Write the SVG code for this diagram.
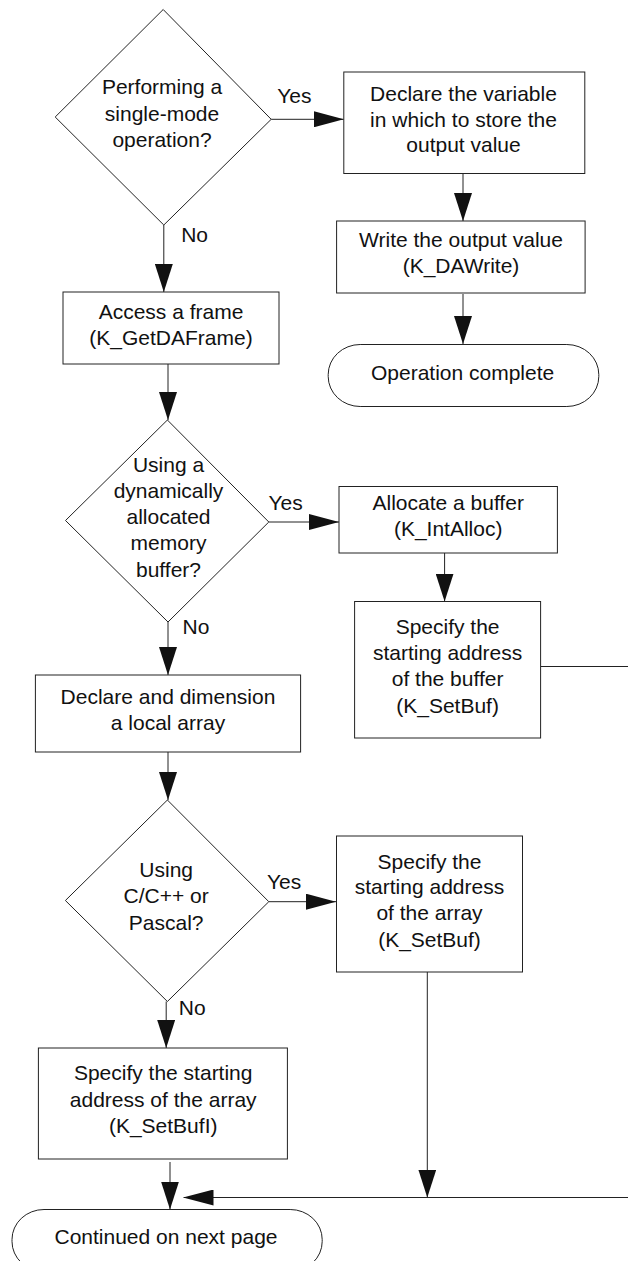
<svg xmlns="http://www.w3.org/2000/svg" width="628" height="1261" viewBox="0 0 628 1261">
<style>
.n{fill:#fff;stroke:#222;stroke-width:1}
.c{fill:none;stroke:#222;stroke-width:1}
text{font-family:"Liberation Sans",Arial,sans-serif;font-size:21px;fill:#111;text-anchor:middle}
.l{text-anchor:start}
</style>
<defs>
<marker id="ah" markerUnits="userSpaceOnUse" markerWidth="30" markerHeight="16" refX="30" refY="8" orient="auto">
<path d="M0,0 L30,8 L0,16 z" fill="#111"/>
</marker>
<marker id="av" markerUnits="userSpaceOnUse" markerWidth="28" markerHeight="18" refX="28" refY="9" orient="auto">
<path d="M0,0 L28,9 L0,18 z" fill="#111"/>
</marker>
</defs>
<rect width="628" height="1261" fill="#fff"/>
<g id="connectors">
<path class="c" d="M271.2,119.3 H343.8" marker-end="url(#ah)"/>
<path class="c" d="M163.8,225 V292" marker-end="url(#av)"/>
<path class="c" d="M463,174 V221" marker-end="url(#av)"/>
<path class="c" d="M463,294 V344" marker-end="url(#av)"/>
<path class="c" d="M168,364 V420" marker-end="url(#av)"/>
<path class="c" d="M268.8,522 H339" marker-end="url(#ah)"/>
<path class="c" d="M444.6,553 V601.5" marker-end="url(#av)"/>
<path class="c" d="M168,622 V675" marker-end="url(#av)"/>
<path class="c" d="M168,752 V800" marker-end="url(#av)"/>
<path class="c" d="M268.8,901.7 H336" marker-end="url(#ah)"/>
<path class="c" d="M166.2,1001.5 V1048" marker-end="url(#av)"/>
<path class="c" d="M427.3,972 V1197.5" marker-end="url(#av)"/>
<path class="c" d="M170,1162 V1209.5" marker-end="url(#av)"/>
<path class="c" d="M540.6,666.5 H640 V1197.5 H183.5" marker-end="url(#ah)"/>
<text class="l" x="277.2" y="103">Yes</text>
<text class="l" x="181.2" y="241.5">No</text>
<text class="l" x="268.5" y="510">Yes</text>
<text class="l" x="182.5" y="634">No</text>
<text class="l" x="267" y="889">Yes</text>
<text class="l" x="178.8" y="1015">No</text>
</g>
<g id="d1">
<polygon class="n" points="163.2,9.5 271.2,119.3 163.8,225 55.2,117"/>
<text x="162" y="94">Performing a</text>
<text x="162" y="120.5">single-mode</text>
<text x="162" y="146.5">operation?</text>
</g>
<g id="b_declare_var">
<rect class="n" x="343.8" y="72" width="241" height="101.5"/>
<text x="463.5" y="100.5">Declare the variable</text>
<text x="463.5" y="126.5">in which to store the</text>
<text x="463.5" y="152">output value</text>
</g>
<g id="b_write">
<rect class="n" x="336.6" y="221" width="248.5" height="72"/>
<text x="461" y="247">Write the output value</text>
<text x="461" y="272.5">(K_DAWrite)</text>
</g>
<g id="t_complete">
<rect class="n" x="328.2" y="344.5" width="270.6" height="62" rx="32" ry="30"/>
<text x="462.6" y="379.5">Operation complete</text>
</g>
<g id="b_access">
<rect class="n" x="63" y="292" width="216" height="72"/>
<text x="171" y="318.5">Access a frame</text>
<text x="171" y="345">(K_GetDAFrame)</text>
</g>
<g id="d2">
<polygon class="n" points="167.4,420 268.8,522 168,622 65.5,520.5"/>
<text x="168.5" y="471.5">Using a</text>
<text x="168.5" y="497.5">dynamically</text>
<text x="168.5" y="524">allocated</text>
<text x="168.5" y="550">memory</text>
<text x="168.5" y="576.5">buffer?</text>
</g>
<g id="b_alloc">
<rect class="n" x="339" y="486.5" width="218.4" height="66.5"/>
<text x="448.2" y="510">Allocate a buffer</text>
<text x="448.2" y="536">(K_IntAlloc)</text>
</g>
<g id="b_setbuf_buffer">
<rect class="n" x="354.6" y="601.5" width="186" height="136.5"/>
<text x="447.6" y="633.5">Specify the</text>
<text x="447.6" y="659.5">starting address</text>
<text x="447.6" y="686">of the buffer</text>
<text x="447.6" y="712.5">(K_SetBuf)</text>
</g>
<g id="b_local_array">
<rect class="n" x="35.4" y="675" width="265.2" height="77"/>
<text x="168" y="703.5">Declare and dimension</text>
<text x="168" y="730">a local array</text>
</g>
<g id="d3">
<polygon class="n" points="167.4,800 268.8,901.7 167.4,1001.5 65.4,900.5"/>
<text x="166.2" y="877">Using</text>
<text x="166.2" y="903">C/C++ or</text>
<text x="166.2" y="929.5">Pascal?</text>
</g>
<g id="b_setbuf_array">
<rect class="n" x="336.5" y="836" width="186" height="136"/>
<text x="429.5" y="868.5">Specify the</text>
<text x="429.5" y="894">starting address</text>
<text x="429.5" y="920">of the array</text>
<text x="429.5" y="947">(K_SetBuf)</text>
</g>
<g id="b_setbufi">
<rect class="n" x="38.4" y="1048" width="249" height="111"/>
<text x="163.2" y="1080">Specify the starting</text>
<text x="163.2" y="1106.5">address of the array</text>
<text x="163.2" y="1133">(K_SetBufI)</text>
</g>
<g id="t_continued">
<rect class="n" x="12" y="1209.5" width="310.2" height="62" rx="32" ry="30"/>
<text x="166" y="1243.5">Continued on next page</text>
</g>
</svg>
